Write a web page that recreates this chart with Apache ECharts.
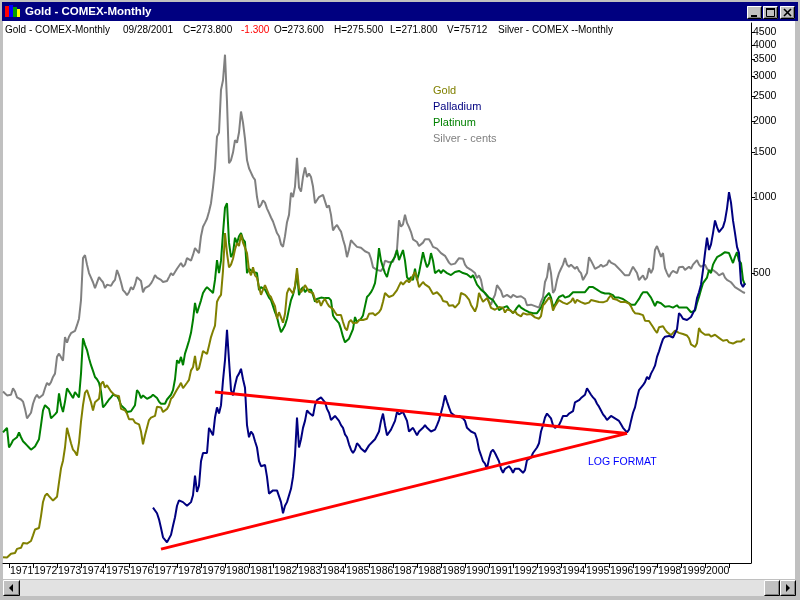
<!DOCTYPE html>
<html>
<head>
<meta charset="utf-8">
<title>Gold - COMEX-Monthly</title>
<script src="https://cdn.jsdelivr.net/npm/echarts@6/dist/echarts.min.js"></script>
<style>
  html, body { margin: 0; padding: 0; background: #c0c0c0; }
  #report { width: 800px; height: 600px; }
</style>
</head>
<body>
<div id="report"></div>
<script>
// monthly values, gold / platinum / silver start 1970-10, palladium starts 1977-01
var gold = [
  37.5, 37.4, 37.4,
  37.9, 38.7, 38.9, 39.0, 40.5, 40.1, 40.9, 42.7, 42.0, 42.5, 42.9, 43.5,
  45.8, 48.3, 48.3, 49.0, 54.6, 62.1, 65.7, 67.0, 65.5, 64.9, 62.9, 63.9,
  65.1, 74.2, 84.4, 90.5, 102, 122, 120, 106, 100, 98, 94.8, 106.7,
  129, 150, 168, 172, 163, 154, 143, 154, 152, 159, 182, 186,
  176, 180, 178, 170, 167, 164, 165, 163, 145, 143, 143, 139,
  132, 131, 132, 128, 128, 126, 118, 105, 114, 116, 131, 134,
  132, 136, 148, 149, 147, 141, 143, 145, 150, 159, 162, 161,
  173, 178, 184, 175, 176, 184, 189, 206, 212, 235, 206, 210,
  227, 246, 242, 239, 258, 279, 295, 310, 385, 400, 410, 510,
  720, 600, 527, 540, 570, 620, 658, 640, 710, 660, 630, 600,
  514, 490, 527, 490, 480, 440, 410, 430, 448, 440, 410, 402,
  384, 370, 330, 350, 334, 318, 345, 417, 436, 440, 415, 445,
  523, 436, 420, 432, 448, 440, 422, 416, 417, 394, 382, 391,
  371, 386, 395, 381, 370, 365, 360, 350, 341, 340, 341, 320,
  303, 297, 320, 326, 317, 317, 318, 326, 324, 326, 325, 330,
  345, 339, 347, 340, 342, 350, 360, 385, 417, 410, 402, 395,
  408, 401, 428, 445, 461, 450, 460, 469, 460, 470, 490, 505,
  476, 440, 445, 461, 451, 452, 440, 435, 413, 417, 420, 418,
  404, 388, 391, 384, 371, 367, 373, 365, 362, 380, 417, 412,
  410, 402, 393, 374, 373, 352, 370, 417, 400, 385, 382, 398,
  383, 364, 368, 358, 357, 367, 368, 365, 349, 359, 360, 355,
  347, 354, 344, 339, 337, 347, 353, 343, 345, 344, 340, 334,
  335, 330, 338, 373, 380, 385, 400, 391, 355, 370, 374, 391,
  387, 382, 384, 377, 381, 386, 398, 380, 392, 390, 384, 379,
  378, 377, 382, 391, 398, 388, 386, 384, 383, 383, 386, 388,
  400, 409, 396, 393, 392, 385, 384, 388, 385, 381, 379, 369,
  355, 347, 352, 345, 344, 341, 324, 324, 323, 325, 306, 297,
  290, 305, 300, 308, 299, 292, 293, 284, 289, 296, 294, 290,
  287, 287, 286, 283, 276, 261, 259, 255, 264, 303, 293, 290,
  285, 290, 286, 280, 275, 285, 282, 277, 274, 270, 266, 272,
  266, 266, 263, 264, 268, 270, 268, 273, 273.8
];

var platinum = [
  117, 118, 122,
  102, 105, 109, 110, 112, 117, 112, 108, 106, 104, 102, 100,
  100, 103, 104, 110, 125, 143, 150, 152, 145, 133, 135, 138,
  141, 167, 150, 141, 155, 175, 170, 165, 160, 169, 165, 161,
  200, 276, 260, 248, 230, 216, 205, 194, 190, 184, 170, 147,
  150, 154, 158, 161, 165, 167, 163, 158, 150, 148, 145, 141,
  141, 142, 141, 150, 172, 168, 160, 164, 162, 159, 158, 162,
  165, 167, 160, 155, 152, 150, 152, 158, 160, 165, 172, 190,
  226, 220, 233, 216, 240, 254, 270, 290, 326, 381, 347, 368,
  390, 417, 430, 440, 440, 425, 417, 470, 563, 500, 560, 720,
  908, 945, 660, 578, 600, 690, 658, 700, 720, 680, 664, 500,
  520, 514, 505, 510, 500, 428, 440, 435, 430, 428, 400, 391,
  370, 350, 335, 310, 292, 300, 311, 330, 360, 391, 410, 440,
  500, 409, 430, 440, 420, 430, 436, 430, 410, 385, 395, 402,
  400, 405, 398, 398, 398, 390, 340, 330, 326, 317, 300, 280,
  266, 270, 275, 274, 300, 335, 320, 317, 330, 340, 370, 402,
  410, 420, 435, 456, 520, 628, 560, 527, 500, 482, 520, 548,
  548, 580, 617, 563, 570, 617, 560, 482, 470, 482, 469, 520,
  469, 500, 550, 605, 560, 527, 545, 600, 560, 500, 505, 514,
  500, 514, 510, 500, 495, 491, 500, 505, 514, 510, 505, 500,
  491, 495, 491, 480, 491, 470, 450, 440, 430, 425, 417, 410,
  400, 395, 391, 380, 370, 357, 360, 365, 365, 370, 360, 355,
  347, 355, 365, 373, 365, 360, 357, 355, 350, 348, 347, 350,
  347, 350, 365, 381, 400, 402, 417, 400, 368, 375, 390, 402,
  405, 409, 400, 400, 405, 410, 420, 415, 420, 425, 420, 415,
  420, 430, 440, 445, 440, 435, 430, 425, 420, 420, 415, 420,
  415, 420, 409, 400, 405, 400, 398, 395, 390, 385, 381, 375,
  381, 375, 385, 395, 409, 420, 425, 420, 410, 400, 385, 370,
  385, 385, 380, 375, 368, 365, 370, 373, 365, 370, 373, 365,
  360, 365, 365, 365, 360, 350, 347, 355, 380, 402, 430, 456,
  456, 480, 514, 500, 540, 560, 578, 580, 590, 600, 605, 605,
  600, 590, 548, 580, 605, 560, 548, 470, 448
];

// silver in cents
var silver = [
  170, 168, 164,
  164, 165, 175, 170, 161, 161, 158, 155, 145, 133, 132, 140,
  152, 160, 165, 160, 161, 165, 175, 184, 180, 185, 194, 200,
  233, 240, 236, 225, 279, 265, 280, 289, 285, 295, 311, 330,
  391, 573, 589, 540, 500, 480, 460, 436, 436, 482, 470, 460,
  436, 450, 456, 445, 460, 470, 514, 490, 460, 428, 420, 409,
  420, 440, 430, 450, 482, 482, 465, 420, 436, 440, 445, 455,
  470, 491, 480, 475, 470, 461, 455, 465, 482, 500, 490, 485,
  520, 527, 548, 530, 540, 573, 563, 560, 590, 628, 617, 600,
  700, 763, 790, 820, 874, 945, 1093, 1300, 1735, 1800, 2655, 2900,
  3660, 2380, 1360, 1400, 1500, 1680, 1640, 1800, 2180, 1970, 1700, 1400,
  1300, 1250, 1200, 1170, 1000, 908, 930, 970, 950, 900, 865, 830,
  800, 795, 720, 700, 650, 635, 700, 795, 850, 1040, 1000, 1100,
  1430, 1090, 1050, 1200, 1310, 1200, 1240, 1200, 1100, 945, 960, 1000,
  1000, 1020, 1020, 908, 927, 850, 738, 760, 775, 750, 730, 680,
  640, 578, 620, 675, 660, 650, 635, 640, 630, 625, 610, 617,
  600, 570, 527, 520, 515, 520, 510, 523, 560, 552, 552, 545,
  555, 560, 620, 808, 763, 780, 852, 790, 760, 727, 680, 690,
  664, 640, 650, 660, 680, 690, 680, 660, 635, 630, 625, 617,
  600, 590, 585, 578, 550, 540, 537, 545, 555, 573, 565, 570,
  540, 527, 520, 515, 514, 500, 478, 490, 470, 428, 415, 405,
  385, 375, 395, 410, 448, 440, 425, 402, 405, 410, 417, 400,
  410, 405, 402, 400, 405, 405, 395, 373, 375, 375, 373, 370,
  368, 365, 385, 402, 461, 482, 548, 500, 417, 430, 470, 500,
  520, 540, 573, 540, 530, 540, 548, 520, 530, 510, 500, 469,
  475, 500, 578, 560, 540, 520, 514, 530, 540, 530, 525, 540,
  563, 550, 545, 540, 530, 523, 510, 500, 490, 482, 490, 510,
  530, 537, 500, 469, 480, 490, 470, 480, 523, 500, 520, 617,
  640, 645, 580, 600, 523, 500, 482, 500, 510, 505, 500, 527,
  520, 530, 515, 514, 530, 520, 540, 545, 563, 540, 530, 527,
  540, 520, 510, 505, 514, 510, 500, 490, 490, 500, 480, 470,
  469, 460, 450, 440, 436, 430, 425, 420, 417
];

var palladiumStart = '1977-01';
var palladium = [
  59, 58, 56, 53, 49, 45, 44, 43, 43, 46, 50, 54,
  60, 63, 62, 62, 61, 60, 61, 62, 66, 79, 68, 72,
  90, 97, 96, 97, 122, 118, 114, 134, 147, 139, 150, 188,
  226, 298, 226, 172, 164, 180, 194, 200, 209, 190, 176, 125,
  112, 118, 115, 108, 102, 90, 86, 87, 87, 78, 67, 68,
  69, 68, 69, 69, 62, 56, 60, 62, 62, 70, 78, 95,
  134, 102, 110, 122, 130, 143, 140, 140, 136, 150, 157, 158,
  161, 160, 154, 145, 140, 131, 133, 136, 136, 130, 125, 122,
  115, 112, 105, 100, 97, 100, 106, 104, 101, 100, 98, 97,
  104, 105, 108, 110, 111, 118, 130, 139, 125, 114, 116, 120,
  122, 130, 141, 138, 140, 141, 139, 130, 118, 120, 122, 122,
  114, 118, 120, 122, 125, 122, 120, 118, 118, 120, 125, 131,
  140, 150, 164, 155, 147, 140, 138, 136, 135, 136, 136, 133,
  130, 122, 120, 118, 116, 116, 110, 100, 95, 90, 88, 84,
  92, 98, 100, 97, 97, 90, 84, 81, 84, 84, 86, 84,
  81, 84, 83, 84, 84, 81, 83, 91, 91, 93, 97, 97,
  102, 106, 118, 125, 134, 139, 141, 133, 125, 122, 122, 125,
  130, 136, 134, 136, 139, 140, 142, 154, 155, 157, 160, 161,
  165, 175, 170, 165, 161, 158, 152, 148, 143, 138, 135, 131,
  132, 136, 135, 133, 133, 130, 126, 122, 120, 117, 120, 130,
  140, 147, 160, 172, 175, 180, 185, 194, 190, 200, 207, 215,
  233, 245, 260, 274, 280, 282, 282, 280, 278, 278, 300, 347,
  340, 330, 326, 326, 330, 335, 340, 360, 398, 420, 450, 514,
  600, 690, 617, 650, 720, 808, 760, 727, 740, 760, 808, 900,
  1045, 950, 808, 720, 635, 600, 456, 440, 456
];

// hand drawn trend lines (month, price)
var upperTrend = [['1979-08', 169], ['1996-10', 116]];
var lowerTrend = [['1977-05', 40.4], ['1996-10', 116]];

var yTicks = [500, 1000, 1500, 2000, 2500, 3000, 3500, 4000, 4500];

// month categories 1970-10 .. 2001-12
var months = [];
for (var y = 1970, mo = 10; y < 2002; ) {
  months.push(y + '-' + (mo < 10 ? '0' + mo : mo));
  mo++;
  if (mo > 12) { mo = 1; y++; }
}

var FONT = 'Liberation Sans, Arial, sans-serif';
var palOffset = months.indexOf(palladiumStart);
var palladiumData = palladium.map(function (v, i) { return [months[palOffset + i], v]; });

function bevel(x, y, w, h) {
  return [
    { type: 'rect', shape: { x: x, y: y, width: w, height: h }, style: { fill: '#c0c0c0' } },
    { type: 'polyline', shape: { points: [[x + 0.5, y + h - 0.5], [x + 0.5, y + 0.5], [x + w - 0.5, y + 0.5]] }, style: { stroke: '#ffffff', lineWidth: 1 } },
    { type: 'polyline', shape: { points: [[x + 0.5, y + h - 0.5], [x + w - 0.5, y + h - 0.5], [x + w - 0.5, y + 0.5]] }, style: { stroke: '#000000', lineWidth: 1 } },
    { type: 'polyline', shape: { points: [[x + 1.5, y + h - 1.5], [x + w - 1.5, y + h - 1.5], [x + w - 1.5, y + 1.5]] }, style: { stroke: '#808080', lineWidth: 1 } }
  ];
}

function txt(x, y, s, color, size, weight) {
  return {
    type: 'text', x: x, y: y,
    style: { text: s, fill: color, font: (weight || 'normal') + ' ' + size + 'px ' + FONT, verticalAlign: 'middle' }
  };
}

var chrome = [
  // window frame
  { type: 'rect', shape: { x: 0, y: 0, width: 3, height: 600 }, style: { fill: '#c0c0c0' } },
  { type: 'rect', shape: { x: 795, y: 0, width: 5, height: 600 }, style: { fill: '#c0c0c0' } },
  { type: 'rect', shape: { x: 0, y: 0, width: 800, height: 2 }, style: { fill: '#c0c0c0' } },
  { type: 'rect', shape: { x: 0, y: 579, width: 800, height: 21 }, style: { fill: '#c0c0c0' } },
  // title bar
  { type: 'rect', shape: { x: 2, y: 2, width: 796, height: 19 }, style: { fill: '#000080' } },
  { type: 'rect', shape: { x: 5, y: 6, width: 4, height: 11 }, style: { fill: '#ff0000' } },
  { type: 'rect', shape: { x: 9, y: 5, width: 4, height: 12 }, style: { fill: '#0000ff' } },
  { type: 'rect', shape: { x: 13, y: 7, width: 4, height: 10 }, style: { fill: '#00a000' } },
  { type: 'rect', shape: { x: 17, y: 9, width: 3, height: 8 }, style: { fill: '#ffff00' } },
  txt(25, 12, 'Gold - COMEX-Monthly', '#ffffff', 11.5, 'bold'),
  // scroll bar
  { type: 'rect', shape: { x: 3, y: 580, width: 792, height: 16 }, style: { fill: '#e2e2e2' } }
]
  .concat(bevel(747, 6, 15, 13))
  .concat(bevel(763, 6, 15, 13))
  .concat(bevel(780, 6, 15, 13))
  .concat(bevel(3, 580, 17, 16))
  .concat(bevel(764, 580, 16, 16))
  .concat(bevel(780, 580, 16, 16))
  .concat([
    { type: 'rect', shape: { x: 751, y: 15, width: 6, height: 2 }, style: { fill: '#000' } },
    { type: 'rect', shape: { x: 766.5, y: 8.5, width: 8, height: 8 }, style: { fill: 'none', stroke: '#000', lineWidth: 1 } },
    { type: 'rect', shape: { x: 766, y: 8, width: 9, height: 2 }, style: { fill: '#000' } },
    { type: 'line', shape: { x1: 784, y1: 9, x2: 791, y2: 16 }, style: { stroke: '#000', lineWidth: 1.6 } },
    { type: 'line', shape: { x1: 791, y1: 9, x2: 784, y2: 16 }, style: { stroke: '#000', lineWidth: 1.6 } },
    { type: 'polygon', shape: { points: [[9, 588], [13, 584], [13, 592]] }, style: { fill: '#000' } },
    { type: 'polygon', shape: { points: [[790, 588], [786, 584], [786, 592]] }, style: { fill: '#000' } },
    // header line
    txt(5, 30, 'Gold - COMEX-Monthly', '#000', 10),
    txt(123, 30, '09/28/2001', '#000', 10),
    txt(183, 30, 'C=273.800', '#000', 10),
    txt(241, 30, '-1.300', '#ff0000', 10),
    txt(274, 30, 'O=273.600', '#000', 10),
    txt(334, 30, 'H=275.500', '#000', 10),
    txt(390, 30, 'L=271.800', '#000', 10),
    txt(447, 30, 'V=75712', '#000', 10),
    txt(498, 30, 'Silver - COMEX --Monthly', '#000', 10),
    txt(588, 462, 'LOG FORMAT', '#0000ff', 10.5)
  ]);

var myChart = echarts.init(document.getElementById('report'));

option = {
  animation: false,
  backgroundColor: '#ffffff',
  grid: { left: 3, right: 49, top: 23, bottom: 37 },
  legend: {
    orient: 'vertical',
    left: 422,
    top: 80,
    itemWidth: 0,
    itemHeight: 0,
    itemGap: 5,
    selectedMode: false,
    textStyle: { fontSize: 11, fontFamily: FONT },
    data: [
      { name: 'Gold', textStyle: { color: '#808000' } },
      { name: 'Palladium', textStyle: { color: '#000080' } },
      { name: 'Platinum', textStyle: { color: '#008000' } },
      { name: 'Silver - cents', textStyle: { color: '#808080' } }
    ]
  },
  xAxis: {
    type: 'category',
    data: months,
    boundaryGap: false,
    axisLine: { lineStyle: { color: '#000', width: 1 } },
    axisTick: {
      interval: function (i, v) { return v.slice(5) === '01'; },
      length: 5,
      lineStyle: { color: '#000' }
    },
    axisLabel: {
      interval: function (i, v) { return v.slice(5) === '01' && v < '2001'; },
      formatter: function (v) { return v.slice(0, 4); },
      align: 'left',
      padding: [0, 0, 0, 1],
      margin: 3,
      color: '#000',
      fontSize: 10.5,
      fontFamily: FONT
    },
    splitLine: { show: false }
  },
  yAxis: {
    type: 'log',
    position: 'right',
    min: 35.6,
    max: 4885,
    axisLine: { show: true, onZero: false, lineStyle: { color: '#000' } },
    axisTick: { show: true, length: 4, customValues: yTicks, lineStyle: { color: '#000' } },
    axisLabel: {
      customValues: yTicks,
      formatter: function (v) { return String(Math.round(v)); },
      color: '#000', fontSize: 10.5, margin: 2, fontFamily: FONT
    },
    splitLine: { show: false }
  },
  series: [
    {
      name: 'Silver - cents', type: 'line', data: silver, symbol: 'none', silent: true,
      itemStyle: { color: '#808080' }, lineStyle: { color: '#808080', width: 2 }
    },
    {
      name: 'Platinum', type: 'line', data: platinum, symbol: 'none', silent: true,
      itemStyle: { color: '#008000' }, lineStyle: { color: '#008000', width: 2 }
    },
    {
      name: 'Gold', type: 'line', data: gold, symbol: 'none', silent: true,
      itemStyle: { color: '#808000' }, lineStyle: { color: '#808000', width: 2 }
    },
    {
      name: 'Palladium', type: 'line', data: palladiumData, symbol: 'none', silent: true,
      itemStyle: { color: '#000080' }, lineStyle: { color: '#000080', width: 2 },
      markLine: {
        silent: true,
        symbol: 'none',
        label: { show: false },
        lineStyle: { color: '#ff0000', width: 3, type: 'solid' },
        data: [
          [{ coord: upperTrend[0] }, { coord: upperTrend[1] }],
          [{ coord: lowerTrend[0] }, { coord: lowerTrend[1] }]
        ]
      }
    }
  ],
  graphic: chrome
};

myChart.setOption(option);
</script>
</body>
</html>
